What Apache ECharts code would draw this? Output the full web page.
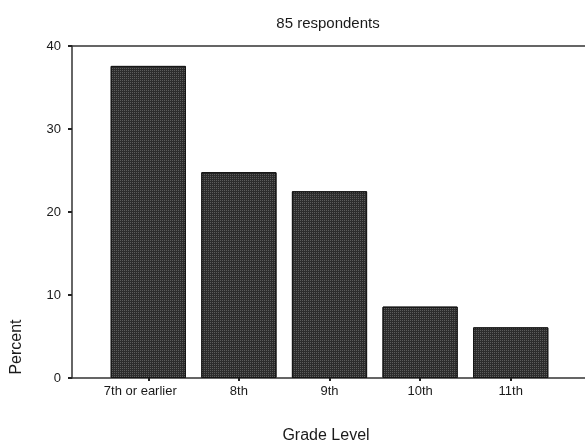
<!DOCTYPE html>
<html>
<head>
<meta charset="utf-8">
<script src="https://cdn.jsdelivr.net/npm/echarts@6/dist/echarts.min.js"></script>
<style>
html,body{margin:0;padding:0;background:#fff;}
#c{width:585px;height:442px;}
</style>
</head>
<body>
<div id="c"></div>
<script>
const categories = ['7th or earlier', '8th', '9th', '10th', '11th'];
const percentValues = [37.6, 24.8, 22.5, 8.6, 6.1];
const yTicks = [0, 10, 20, 30, 40];

const FONT = 'Arial, "Liberation Sans", sans-serif';
const chart = echarts.init(document.getElementById('c'), null, {renderer: 'canvas'});
chart.setOption({
  animation: false,
  backgroundColor: '#ffffff',
  title: [
    {text: '85 respondents', left: 323, top: 11, textAlign: 'center',
     textStyle: {fontFamily: FONT, fontSize: 15, fontWeight: 'normal', color: '#1a1a1a'}},
    {text: 'Grade Level', left: 321, top: 423, textAlign: 'center',
     textStyle: {fontFamily: FONT, fontSize: 16, fontWeight: 'normal', color: '#1a1a1a'}}
  ],
  graphic: [
    {type: 'text', x: 17, y: 347, rotation: Math.PI / 2,
     style: {text: 'Percent', font: '16px ' + FONT, fill: '#1a1a1a', align: 'center', verticalAlign: 'middle'}}
  ],
  grid: [
    {left: 103, right: 29, top: 46, bottom: 64},
    {left: 72, right: 0, top: 46, bottom: 64}
  ],
  xAxis: [
    {gridIndex: 0, type: 'category', data: categories,
     axisLine: {show: false},
     axisTick: {show: true, alignWithLabel: true, length: 3, lineStyle: {color: '#222', width: 2}},
     axisLabel: {interval: 0, fontFamily: FONT, fontSize: 13, color: '#1a1a1a', margin: 7,
       formatter: function (v, i) { return i === 0 ? '{a|' + v + '}' : v; },
       rich: {a: {fontFamily: FONT, fontSize: 13, color: '#1a1a1a', padding: [0, 16, 0, 0]}}}},
    {gridIndex: 1, type: 'value', min: 0, max: 1, position: 'bottom',
     axisLine: {show: true, lineStyle: {color: '#333', width: 1.5}},
     axisTick: {show: false}, axisLabel: {show: false}, splitLine: {show: false}},
    {gridIndex: 1, type: 'value', min: 0, max: 1, position: 'top',
     axisLine: {show: true, lineStyle: {color: '#333', width: 1.5}},
     axisTick: {show: false}, axisLabel: {show: false}, splitLine: {show: false}}
  ],
  yAxis: [
    {gridIndex: 0, type: 'value', min: 0, max: 40, show: false},
    {gridIndex: 1, type: 'value', min: yTicks[0], max: yTicks[yTicks.length - 1], interval: 10,
     axisLine: {show: true, lineStyle: {color: '#333', width: 1.5}},
     axisTick: {show: true, length: 4, lineStyle: {color: '#222', width: 2}},
     axisLabel: {fontFamily: FONT, fontSize: 13, color: '#1a1a1a', margin: 11},
     splitLine: {show: false}}
  ],
  series: [{
    type: 'bar', xAxisIndex: 0, yAxisIndex: 0,
    data: percentValues,
    barCategoryGap: '17%',
    itemStyle: {
      color: '#2c2c2c', borderColor: '#151515', borderWidth: 1,
      decal: {symbol: 'rect', symbolSize: 1, dashArrayX: [1, 1], dashArrayY: [1, 1], color: 'rgba(150,150,150,0.45)'}
    }
  }]
});
</script>
</body>
</html>
